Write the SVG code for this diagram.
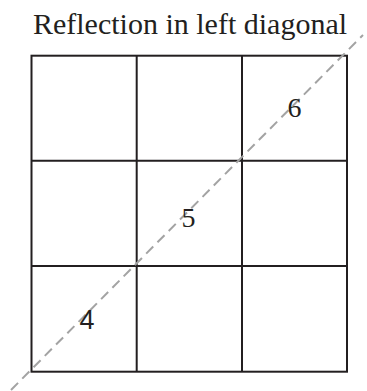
<svg xmlns="http://www.w3.org/2000/svg" width="367" height="391" viewBox="0 0 367 391">
<style>
.grid{fill:none;stroke:#231f20;stroke-width:2}
.diag{stroke:#a3a3a3;stroke-width:2;stroke-dasharray:10,6;fill:none}
.t{font-family:"Liberation Serif","Times New Roman",serif;fill:#231f20}
.s{font-family:"Liberation Sans",Arial,sans-serif;fill:#231f20}
</style>
<rect width="367" height="391" fill="#fff"/>
<text class="t" x="190" y="34" font-size="30" text-anchor="middle">Reflection in left diagonal</text>
<g id="grid" class="grid">
<rect x="31.5" y="55.7" width="315.5" height="316"/>
<line x1="136.7" y1="55.7" x2="136.7" y2="371.7"/>
<line x1="242" y1="55.7" x2="242" y2="371.7"/>
<line x1="31.5" y1="160.7" x2="347" y2="160.7"/>
<line x1="31.5" y1="266" x2="347" y2="266"/>
</g>
<g id="connectors">
<line class="diag" x1="11" y1="390" x2="363" y2="35"/>
</g>
<g id="n6"><text class="t" x="294.5" y="117" font-size="28" text-anchor="middle">6</text></g>
<g id="n5"><text class="t" x="188.5" y="227" font-size="28" text-anchor="middle">5</text></g>
<g id="n4"><text class="s" x="87" y="329" font-size="27" text-anchor="middle" font-weight="300">4</text></g>
</svg>
